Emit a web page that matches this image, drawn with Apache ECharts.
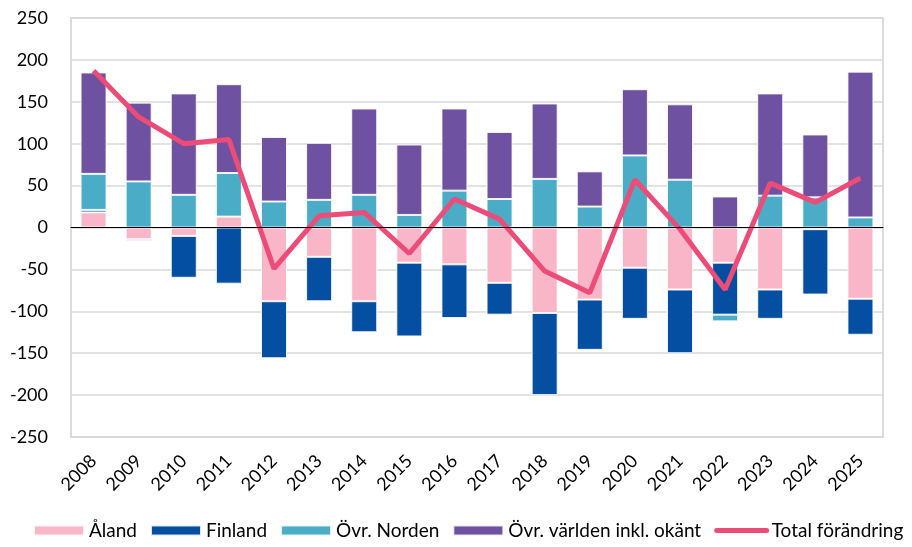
<!DOCTYPE html>
<html>
<head>
<meta charset="utf-8">
<script src="https://cdn.jsdelivr.net/npm/echarts@6/dist/echarts.min.js"></script>
<style>
  html, body { margin: 0; padding: 0; background: #fff; }
  #chart { width: 912px; height: 547px; }
</style>
</head>
<body>
<div id="chart"></div>
<script>
const years = ['2008', '2009', '2010', '2011', '2012', '2013', '2014', '2015', '2016',
  '2017', '2018', '2019', '2020', '2021', '2022', '2023', '2024', '2025'];
const aland = [18, -14, -10, 13, -88, -35, -88, -42, -44, -66, -102, -86, -48, -74, -42, -74, -2, -85];
const finland = [3, -2, -50, -67, -68, -53, -37, -88, -64, -38, -98, -60, -61, -76, -62, -35, -78, -43];
const norden = [43, 55, 39, 52, 31, 33, 39, 15, 44, 34, 58, 25, 86, 57, -8, 38, 36, 12];
const varlden = [121, 94, 121, 106, 77, 68, 103, 84, 98, 80, 90, 42, 79, 90, 37, 122, 75, 174];
const total = [187, 132, 100, 105, -49, 14, 18, -31, 34, 10, -52, -78, 57, -2, -74, 53, 30, 59];

const font = 'Lato, "Noto Sans", sans-serif';

const chart = echarts.init(document.getElementById('chart'));

const barSeries = (name, data, color) => ({
  name: name,
  type: 'bar',
  stack: 'tot',
  barWidth: 26,
  data: data,
  itemStyle: {
    color: color,
    borderColor: 'rgba(255, 255, 255, 0.85)',
    borderWidth: 1
  }
});

const option = {
  backgroundColor: '#fff',
  animation: false,
  textStyle: { fontFamily: font },
  legend: {
    left: 33,
    top: 521,
    width: 900,
    padding: 0,
    itemWidth: 50,
    itemHeight: 10,
    itemGap: 13,
    textStyle: { fontSize: 19, color: '#000', fontFamily: font },
    data: [
      { name: 'Åland', icon: 'rect' },
      { name: 'Finland', icon: 'rect' },
      { name: 'Övr. Norden', icon: 'rect' },
      { name: 'Övr. världen inkl. okänt', icon: 'rect' },
      {
        name: 'Total förändring',
        itemStyle: { opacity: 0 },
        lineStyle: { width: 5, cap: 'round', color: '#EE4C78' }
      }
    ]
  },
  grid: {
    left: 71,
    right: 29,
    top: 18,
    bottom: 110,
    show: true,
    borderColor: '#d0d0d0',
    borderWidth: 1.5
  },
  xAxis: {
    type: 'category',
    data: years,
    axisLine: { onZero: true, lineStyle: { color: '#000', width: 1 } },
    axisTick: { show: false },
    axisLabel: {
      interval: 0,
      rotate: 45,
      margin: 21,
      fontSize: 18,
      color: '#000',
      fontFamily: font
    },
    z: 10
  },
  yAxis: {
    type: 'value',
    min: -250,
    max: 250,
    interval: 50,
    axisLine: { show: false },
    axisTick: { show: false },
    axisLabel: { margin: 23, fontSize: 18, color: '#000', fontFamily: font },
    splitLine: { lineStyle: { color: '#d9d9d9', width: 1.5 } }
  },
  series: [
    barSeries('Åland', aland, '#F8B6C8'),
    barSeries('Finland', finland, '#044FA2'),
    barSeries('Övr. Norden', norden, '#4BACC8'),
    barSeries('Övr. världen inkl. okänt', varlden, '#6E51A0'),
    {
      name: 'Total förändring',
      type: 'line',
      data: total,
      symbol: 'none',
      z: 5,
      lineStyle: { color: '#EE4C78', width: 5 },
      itemStyle: { color: '#EE4C78' }
    }
  ]
};

chart.setOption(option);
</script>
</body>
</html>
